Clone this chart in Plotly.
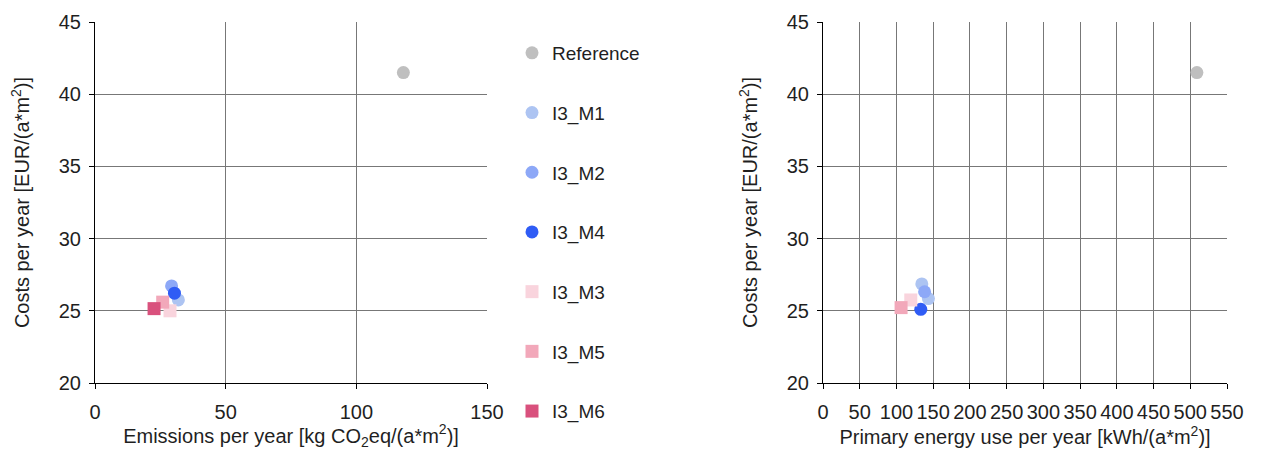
import plotly.graph_objects as go

# ---------------- data ----------------
series_names = ["Reference", "I3_M1", "I3_M2", "I3_M4", "I3_M3", "I3_M5", "I3_M6"]
series_symbols = ["circle", "circle", "circle", "circle", "square", "square", "square"]
series_colors = ["#bfbfbf", "#adc4f2", "#8da8f7", "#2f5cf5", "#f9d4dd", "#f2a8ba", "#d9517d"]

# left chart: emissions [kg CO2eq/(a*m2)] vs costs [EUR/(a*m2)]
emissions_x = [[118.0], [31.9], [29.3], [30.4], [28.7], [25.9], [22.6]]
emissions_cost = [[41.5], [25.75], [26.72], [26.22], [25.0], [25.6], [25.15]]

# right chart: primary energy [kWh/(a*m2)] vs costs [EUR/(a*m2)]
energy_x = [[509.0], [134.5, 143.5], [138.3], [133.1], [119.5], [106.3], []]
energy_cost = [[41.5], [26.86, 25.85], [26.32], [25.1], [25.75], [25.22], []]

x_left_ticks = [0, 50, 100, 150]
x_right_ticks = [0, 50, 100, 150, 200, 250, 300, 350, 400, 450, 500, 550]
y_ticks = [20, 25, 30, 35, 40, 45]

# ---------------- figure ----------------
FONT = "Liberation Sans, Arial, sans-serif"
TXT = "#1f1f1f"
fig = go.Figure()

for i, name in enumerate(series_names):
    fig.add_trace(go.Scatter(
        x=emissions_x[i], y=emissions_cost[i], mode="markers", name=name,
        legendgroup=name, showlegend=True,
        marker=dict(symbol=series_symbols[i], color=series_colors[i], size=13, line=dict(width=0)),
        xaxis="x", yaxis="y"))
for i, name in enumerate(series_names):
    fig.add_trace(go.Scatter(
        x=energy_x[i], y=energy_cost[i], mode="markers", name=name,
        legendgroup=name, showlegend=False,
        marker=dict(symbol=series_symbols[i], color=series_colors[i], size=13, line=dict(width=0)),
        xaxis="x2", yaxis="y2"))

OFF = 8  # page body margin
W, H = 1263 - OFF, 450 - OFF


def px(sx):
    return (sx - OFF) / W


def py(sy):
    return 1 - (sy - OFF) / H


axis_common = dict(
    showgrid=True, gridcolor="#777777", gridwidth=1.3,
    showline=True, linecolor="#000000", linewidth=1,
    ticks="outside", ticklen=5, tickcolor="#000000",
    tickfont=dict(family=FONT, size=20, color=TXT),
    zeroline=False, tickangle=0, automargin=False,
)
ydom = [py(383), py(22)]
title_font = dict(family=FONT, size=20, color=TXT)

fig.update_layout(
    width=W, height=H,
    margin=dict(l=0, r=0, t=0, b=0),
    paper_bgcolor="white", plot_bgcolor="white",
    font=dict(family=FONT, size=19, color=TXT),
    xaxis=dict(domain=[px(95), px(487)], range=[0, 150], tickmode="array", tickvals=x_left_ticks,
               title=dict(text="Emissions per year [kg CO<sub>2</sub>eq/(a*m<sup>2</sup>)]",
                          font=title_font, standoff=6),
               ticklabelstandoff=6, anchor="y", **axis_common),
    yaxis=dict(domain=ydom, range=[20, 45], tickmode="array", tickvals=y_ticks,
               title=dict(text="Costs per year [EUR/(a*m<sup>2</sup>)]", font=title_font, standoff=23),
               ticklabelstandoff=4, anchor="x", **axis_common),
    xaxis2=dict(domain=[px(823), px(1227)], range=[0, 550], tickmode="array", tickvals=x_right_ticks,
                title=dict(text="Primary energy use per year [kWh/(a*m<sup>2</sup>)]",
                           font=title_font, standoff=6),
                ticklabelstandoff=6, anchor="y2", **axis_common),
    yaxis2=dict(domain=ydom, range=[20, 45], tickmode="array", tickvals=y_ticks,
                title=dict(text="Costs per year [EUR/(a*m<sup>2</sup>)]", font=title_font, standoff=23),
                ticklabelstandoff=4, anchor="x2", **axis_common),
    legend=dict(x=px(512), y=py(34), xanchor="left", yanchor="top",
                traceorder="grouped", tracegroupgap=32,
                font=dict(family=FONT, size=19, color=TXT),
                bgcolor="rgba(0,0,0,0)", itemwidth=30),
)

fig.write_html("out.html")
